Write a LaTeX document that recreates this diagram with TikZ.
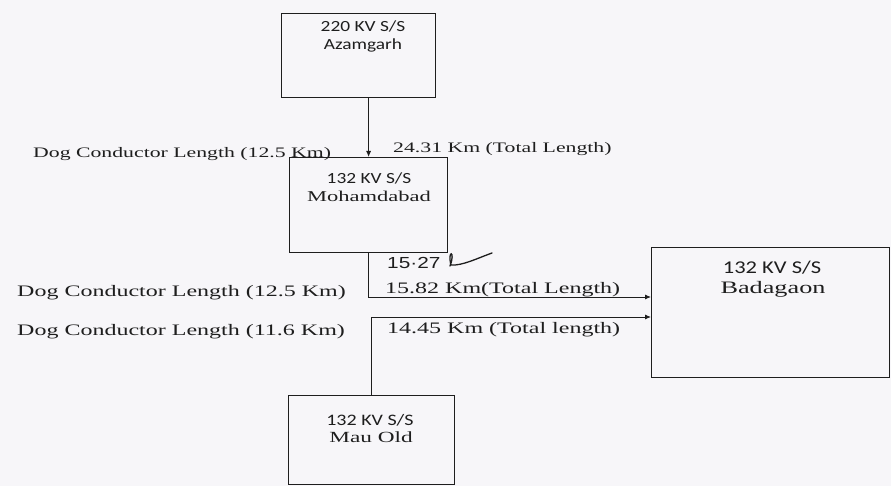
\documentclass[tikz,border=0pt]{standalone}
\usepackage{fontspec}
\setmainfont{Liberation Serif}
\newfontfamily\serifw[FakeStretch=1.5]{Liberation Serif}
\newfontfamily\sansw[FakeStretch=1.25]{Carlito}
\newfontfamily\handw[FakeStretch=1.3]{Liberation Sans}
\usetikzlibrary{arrows.meta}
\definecolor{ink}{HTML}{1E1E1E}
\definecolor{paper}{HTML}{F7F6F9}
\begin{document}
\begin{tikzpicture}[x=1pt,y=-1pt,
  stationbox/.style={draw=ink, line width=1.2pt, anchor=north west, inner sep=0pt},
  conn/.style={draw=ink, line width=0.9pt},
  arr/.style={conn, -{Latex[length=6pt,width=5pt]}},
  sanstxt/.style={inner sep=0pt, anchor=base, text=ink, font=\sansw\fontsize{15.5}{17}\selectfont},
  seriftxt/.style={inner sep=0pt, anchor=base, text=ink, font=\serifw\fontsize{15}{17}\selectfont},
  lab/.style={inner sep=0pt, anchor=base west, text=ink, font=\serifw\fontsize{16}{18}\selectfont},
  labsmall/.style={inner sep=0pt, anchor=base west, text=ink, font=\serifw\fontsize{14.5}{17}\selectfont}
]
\useasboundingbox (0,0) rectangle (891,486);
\fill[paper] (0,0) rectangle (891,486);

% boxes
\node[stationbox, minimum width=154pt, minimum height=84pt] (aza) at (281,13) {};
\node[stationbox, minimum width=158pt, minimum height=95pt] (moh) at (289,157) {};
\node[stationbox, minimum width=238pt, minimum height=130pt] (bad) at (651,247) {};
\node[stationbox, minimum width=166pt, minimum height=89pt] (mau) at (288,395) {};

% box texts
\node[sanstxt] (azat1) at (363,32) {220 KV S/S};
\node[sanstxt] (azat2) at (363,50) {Azamgarh};
\node[sanstxt] (moht1) at (369,184) {132 KV S/S};
\node[seriftxt] (moht2) at (369,202) {Mohamdabad};
\node[sanstxt, font=\sansw\fontsize{18}{20}\selectfont] (badt1) at (772,273) {132 KV S/S};
\node[seriftxt, font=\serifw\fontsize{17.5}{19}\selectfont] (badt2) at (773,293) {Badagaon};
\node[sanstxt, font=\sansw\fontsize{16}{18}\selectfont] (maut1) at (370,425) {132 KV S/S};
\node[seriftxt, font=\serifw\fontsize{15.5}{17}\selectfont] (maut2) at (371,442) {Mau Old};

% connectors
\coordinate (b1) at (651,297);
\coordinate (b2) at (651,317);
\draw[arr] (aza.south -| moh.north) -- (moh.north);
\draw[arr] (moh.south) |- (b1);
\draw[arr] (mau.north) |- (b2);

% labels
\node[labsmall] (l1) at (33,158) {Dog Conductor Length (12.5 Km)};
\node[labsmall] (r1) at (393,153) {24.31 Km (Total Length)};
\node[lab] (l2) at (17,296) {Dog Conductor Length (12.5 Km)};
\node[lab] (r2) at (385,293) {15.82 Km(Total Length)};
\node[lab] (l3) at (17,335) {Dog Conductor Length (11.6 Km)};
\node[lab] (r3) at (387,333) {14.45 Km (Total length)};

% handwritten correction
\node[inner sep=0pt, anchor=base west, text=ink, font=\handw\fontsize{16}{18}\selectfont] (hw) at (387,269) {15·27};
\draw[ink, line width=1.3pt, line cap=round] (450,266) .. controls (456,250) and (447,250) .. (451,265)
  .. controls (462,266) and (478,258) .. (492,253);
\end{tikzpicture}
\end{document}
